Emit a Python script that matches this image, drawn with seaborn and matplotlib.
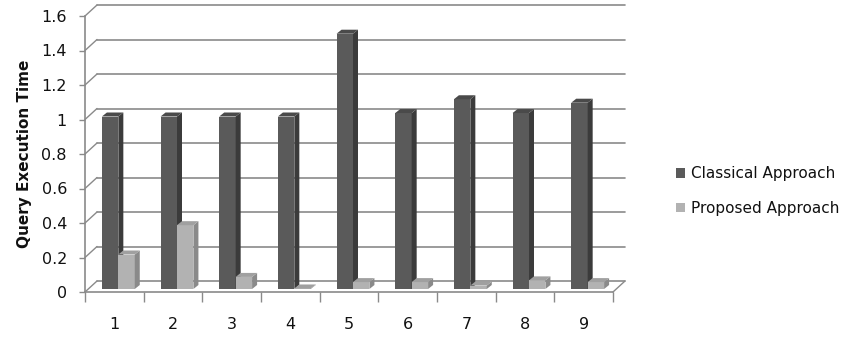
import matplotlib
matplotlib.use("Agg")
import matplotlib.pyplot as plt
from matplotlib.patches import Polygon, Patch
import seaborn as sns
import pandas as pd

categories = ["1", "2", "3", "4", "5", "6", "7", "8", "9"]
classical = [1.0, 1.0, 1.0, 1.0, 1.48, 1.02, 1.10, 1.02, 1.08]
proposed = [0.20, 0.37, 0.07, 0.003, 0.04, 0.04, 0.02, 0.05, 0.04]
series_names = ["Classical Approach", "Proposed Approach"]
y_ticks = [0, 0.2, 0.4, 0.6, 0.8, 1.0, 1.2, 1.4, 1.6]
y_tick_labels = ["0", "0.2", "0.4", "0.6", "0.8", "1", "1.2", "1.4", "1.6"]

df = pd.DataFrame({
    "cat": categories * 2,
    "value": classical + proposed,
    "series": [series_names[0]] * len(categories) + [series_names[1]] * len(categories),
})

sns.set_theme(style="white")
plt.rcParams["font.family"] = ["DejaVu Sans"]

W, H = 849, 342
fig = plt.figure(figsize=(W / 100, H / 100), dpi=100)
ax_left, ax_bottom_px, ax_top_px, ax_right = 85, 292, 16, 613
ax = fig.add_axes([ax_left / W, 1 - ax_bottom_px / H,
                   (ax_right - ax_left) / W, (ax_bottom_px - ax_top_px) / H])

front = {series_names[0]: "#5a5a5a", series_names[1]: "#b2b2b2"}
side = {series_names[0]: "#3b3b3b", series_names[1]: "#8a8a8a"}
top = {series_names[0]: "#4a4a4a", series_names[1]: "#a0a0a0"}

sns.barplot(data=df, x="cat", y="value", hue="series", order=categories,
            hue_order=series_names, palette=front, width=0.56, saturation=1,
            dodge=True, legend=False, ax=ax, edgecolor="none", linewidth=0)

n = len(categories)
ax.set_xlim(-0.5, n - 0.5)
ax.set_ylim(0, 1.6)
px_x = n / (ax_right - ax_left)
px_y = 1.6 / (ax_bottom_px - ax_top_px)

grid_c = "#8a8a8a"
ddx, ddy = 12 * px_x, 11 * px_y
for v in y_ticks:
    ax.plot([-0.5 + ddx, n - 0.5 + ddx], [v + ddy, v + ddy],
            color=grid_c, lw=1.2, clip_on=False, zorder=0.5)
    ax.plot([-0.5, -0.5 + ddx], [v, v + ddy], color=grid_c, lw=1.0,
            clip_on=False, zorder=0.5)
ax.plot([n - 0.5, n - 0.5 + ddx], [0, ddy],
        color=grid_c, lw=1.0, clip_on=False, zorder=0.5)

bdx, bdy = 5 * px_x, 4 * px_y
shift_x, shift_y = 4 * px_x, 3 * px_y
for i, p in enumerate(ax.patches):
    s = series_names[0] if i < n else series_names[1]
    z = 2 if i < n else 3
    p.set_zorder(z)
    p.set_x(p.get_x() + shift_x)
    p.set_y(p.get_y() + shift_y)
    x0, y0 = p.get_x(), p.get_y()
    w, h = p.get_width(), p.get_height()
    sp = Polygon([(x0 + w, y0), (x0 + w + bdx, y0 + bdy), (x0 + w + bdx, y0 + h + bdy),
                  (x0 + w, y0 + h)], closed=True, facecolor=side[s], edgecolor="none",
                 zorder=z + 0.1, clip_on=False)
    tp = Polygon([(x0, y0 + h), (x0 + bdx, y0 + h + bdy), (x0 + w + bdx, y0 + h + bdy),
                  (x0 + w, y0 + h)], closed=True, facecolor=top[s], edgecolor="none",
                 zorder=z + 0.1, clip_on=False)
    ax.add_patch(sp)
    ax.add_patch(tp)

for k in ["top", "right"]:
    ax.spines[k].set_visible(False)
for k in ["left", "bottom"]:
    ax.spines[k].set_color(grid_c)
    ax.spines[k].set_linewidth(1.2)

ax.set_yticks(y_ticks)
ax.set_yticklabels(y_tick_labels)
ax.tick_params(axis="y", length=4, width=1.0, color=grid_c, left=True, pad=9,
               labelsize=11.5, labelcolor="#111111")
ax.set_xticks(range(n))
ax.set_xticklabels(categories)
ax.set_xticks([i - 0.5 for i in range(n + 1)], minor=True)
ax.tick_params(axis="x", which="major", length=0, pad=18, labelsize=11.5,
               labelcolor="#111111")
ax.tick_params(axis="x", which="minor", length=7, width=1.0, color=grid_c, bottom=True)
ax.set_xlabel("")
ax.set_ylabel("Query Execution Time", fontsize=11, fontweight="bold",
              color="#111111")
ax.yaxis.set_label_coords(-0.10, 0.5)
ax.patch.set_alpha(0)

handles = [Patch(facecolor=front[s], edgecolor="none") for s in series_names]
fig.legend(handles, series_names, loc="center left",
           bbox_to_anchor=(662 / W, 1 - 191 / H), frameon=False, fontsize=11,
           handlelength=0.6, handleheight=0.6, handletextpad=0.4,
           labelspacing=1.3, labelcolor="#111111")

fig.savefig("out.png", dpi=100)
